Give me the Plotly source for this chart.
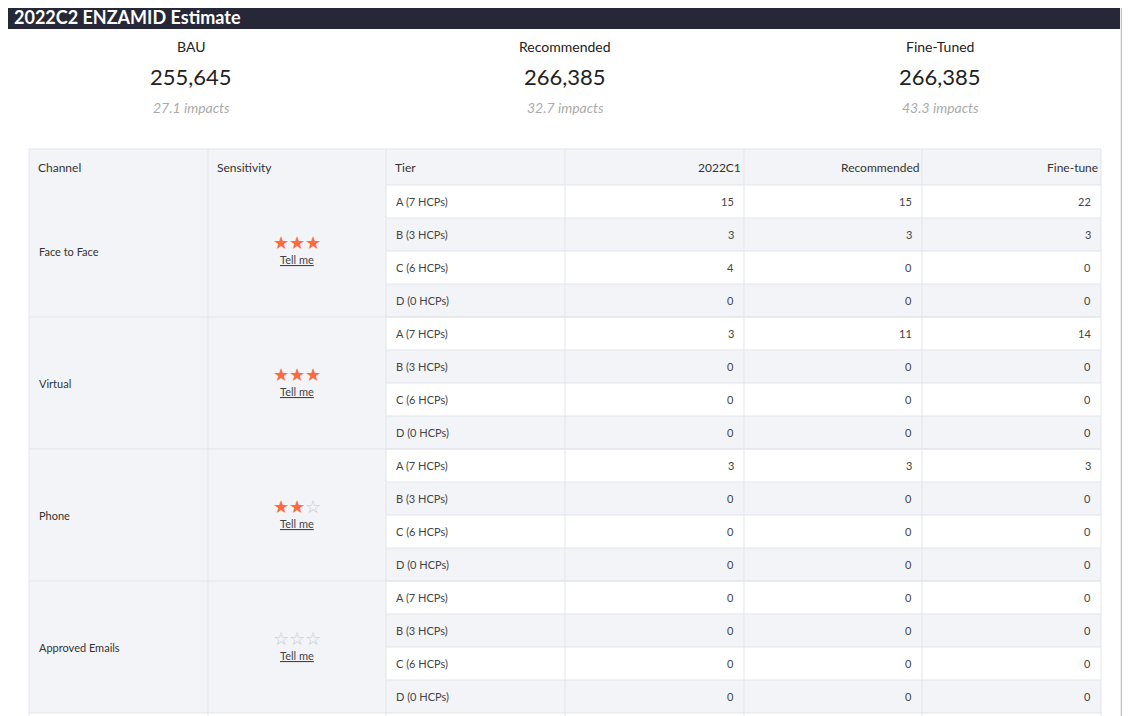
import plotly.graph_objects as go

title = "2022C2 ENZAMID Estimate"
summary_labels = ["BAU", "Recommended", "Fine-Tuned"]
summary_values = ["255,645", "266,385", "266,385"]
summary_impacts = ["27.1 impacts", "32.7 impacts", "43.3 impacts"]

columns = ["Channel", "Sensitivity", "Tier", "2022C1", "Recommended", "Fine-tune"]
channels = ["Face to Face", "Virtual", "Phone", "Approved Emails"]
stars = [3, 3, 2, 0]
tiers = ["A (7 HCPs)", "B (3 HCPs)", "C (6 HCPs)", "D (0 HCPs)"]
v2022c1 = [15, 3, 4, 0, 3, 0, 0, 0, 3, 0, 0, 0, 0, 0, 0, 0]
vrec = [15, 3, 0, 0, 11, 0, 0, 0, 3, 0, 0, 0, 0, 0, 0, 0]
vfine = [22, 3, 0, 0, 14, 0, 0, 0, 3, 0, 0, 0, 0, 0, 0, 0]

W, H = 1130, 716
OFF = 8
FONT = "Lato"
fig = go.Figure()
shapes = []
ann = []

def rect(x0, y0, x1, y1, fill, line=None):
    shapes.append(dict(type="rect", xref="x", yref="y", x0=x0, y0=y0, x1=x1, y1=y1,
                       fillcolor=fill, line=dict(width=1 if line else 0, color=line or fill), layer="below"))

def text(x, y, s, size=11, color="#333", xanchor="left", italic=False, bold=False):
    if bold:
        s = "<b>" + s + "</b>"
    if italic:
        s = "<i>" + s + "</i>"
    ann.append(dict(x=x, y=y, xref="x", yref="y", text=s, showarrow=False, xanchor=xanchor,
                    yanchor="middle", font=dict(family=FONT, size=size, color=color)))

rect(0, 0, W + OFF, H + OFF, "#eef0f4")
rect(1121, 0, W + OFF, H + OFF, "#a9bff0")
rect(5, 29, 1120, H + OFF, "#ffffff")
rect(5, 5, 1120, 29, "#262838")
text(12, 17, title, size=18, color="#ffffff", bold=True)

centers = [191, 565, 940]
for i, c in enumerate(centers):
    text(c, 46, summary_labels[i], size=14, color="#222", xanchor="center")
    text(c, 76, summary_values[i], size=22, color="#222", xanchor="center")
    text(c, 107, summary_impacts[i], size=14, color="#aaa", xanchor="center", italic=True)

xs = [29, 208, 386, 565, 744, 922, 1101]
top, hh, rh = 149, 36, 33
grid = "#e3e5ea"
light = "#f3f4f7"
rect(xs[0], top, xs[-1], top + hh, light)
for j, col in enumerate(columns):
    if j < 3:
        text(xs[j] + 7, top + hh / 2, col, size=12, color="#333")
    else:
        text(xs[j + 1] - 1, top + hh / 2, col, size=12, color="#333", xanchor="right")
y0 = top + hh
nrows = len(tiers) * len(channels)
for r in range(nrows):
    ya = y0 + r * rh
    fill = "#ffffff" if r % 2 == 0 else light
    rect(xs[2], ya, xs[-1], ya + rh, fill)
    text(xs[2] + 8, ya + rh / 2, tiers[r % 4], size=11, color="#444")
    for k, vals in enumerate([v2022c1, vrec, vfine]):
        text(xs[k + 4] - 8, ya + rh / 2, str(vals[r]), size=11, color="#444", xanchor="right")
for g, ch in enumerate(channels):
    ya = y0 + g * 4 * rh
    yb = ya + 4 * rh
    rect(xs[0], ya, xs[2], yb, light)
    text(xs[0] + 8, (ya + yb) / 2, ch, size=11, color="#333")
    st = "<span style='color:#ff6a3d'>" + "★" * stars[g] + "</span>" + \
         "<span style='color:#c8c8c8'>" + "☆" * (3 - stars[g]) + "</span>"
    text((xs[1] + xs[2]) / 2, (ya + yb) / 2 - 9, st, size=18, xanchor="center")
    text((xs[1] + xs[2]) / 2, (ya + yb) / 2 + 8, "<u>Tell me</u>", size=11, color="#444", xanchor="center")
    shapes.append(dict(type="line", xref="x", yref="y", x0=xs[0], x1=xs[-1], y0=yb, y1=yb,
                       line=dict(color=grid, width=1)))
for r in range(nrows):
    ya = y0 + r * rh
    shapes.append(dict(type="line", xref="x", yref="y", x0=xs[2], x1=xs[-1], y0=ya, y1=ya,
                       line=dict(color=grid, width=1)))
shapes.append(dict(type="line", xref="x", yref="y", x0=xs[0], x1=xs[-1], y0=top, y1=top,
                   line=dict(color=grid, width=1)))
bottom = y0 + nrows * rh + 10
for x in xs:
    shapes.append(dict(type="line", xref="x", yref="y", x0=x, x1=x, y0=top, y1=bottom,
                       line=dict(color=grid, width=1)))

fig.update_layout(width=W, height=H, margin=dict(l=0, r=0, t=0, b=0),
                  paper_bgcolor="#eef0f4", plot_bgcolor="#eef0f4",
                  xaxis=dict(range=[OFF, W + OFF], visible=False, fixedrange=True),
                  yaxis=dict(range=[H + OFF, OFF], visible=False, fixedrange=True),
                  shapes=shapes, annotations=ann, showlegend=False)
fig.write_html("out.html", config={"displayModeBar": False})
